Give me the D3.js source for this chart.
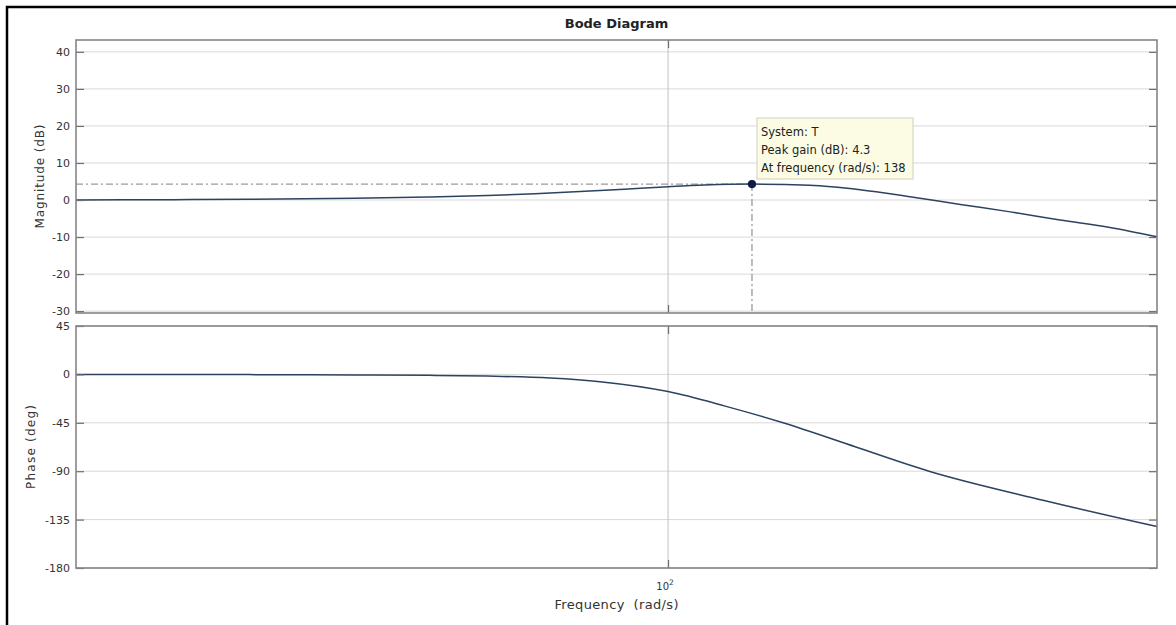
<!DOCTYPE html>
<html>
<head>
<meta charset="utf-8">
<script src="https://cdn.jsdelivr.net/npm/d3@7"></script>
<style>
  html, body { margin: 0; padding: 0; background: #ffffff; }
  svg { display: block; }
  text { font-family: "DejaVu Sans", "Liberation Sans", Arial, sans-serif; }
</style>
</head>
<body>
<svg id="chart" width="1176" height="625"></svg>
<script>
// ---------------- data ----------------
const titleText = "Bode Diagram";
const xLabelText = "Frequency  (rad/s)";
const magLabelText = "Magnitude (dB)";
const phaseLabelText = "Phase (deg)";

const freqDomain = [10.31, 653];          // rad/s, visible frequency range
const magDomain = [-30.5, 43.2];          // dB
const phaseDomain = [-180, 45];           // deg

const xTickValues = [100];
const magTicks = [-30, -20, -10, 0, 10, 20, 30, 40];
const phaseTicks = [-180, -135, -90, -45, 0, 45];

const magFreq = [10.31, 15, 20, 30, 40, 50, 60, 70, 80, 90, 100, 115, 138, 172, 209, 253, 307, 372, 450, 545, 653];
const magDb   = [0.0, 0.1, 0.2, 0.45, 0.8, 1.2, 1.7, 2.2, 2.7, 3.2, 3.6, 4.05, 4.3, 4.0, 2.8, 0.9, -1.2, -3.2, -5.4, -7.4, -9.9];

const phaseFreq = [10.31, 20, 30, 40, 50, 63.6, 77, 100, 124.5, 155.5, 205.6, 272.2, 421.7, 653];
const phaseDeg  = [0, -0.2, -0.5, -0.9, -1.6, -3.4, -6.8, -16, -29.5, -45, -67.5, -90, -117, -141.5];

const peakFreq = 138;
const peakGain = 4.3;
const tipLines = ["System: T", "Peak gain (dB): 4.3", "At frequency (rad/s): 138"];

// ---------------- layout ----------------
const svg = d3.select("#chart");
const L = 76, R = 1157;
const magTop = 40, magBot = 313;
const phTop = 326, phBot = 568;

const x = d3.scaleLog().domain(freqDomain).range([L, R]);
const yMag = d3.scaleLinear().domain(magDomain).range([magBot, magTop]);
const yPh = d3.scaleLinear().domain(phaseDomain).range([phBot, phTop]);

// outer figure border (top & left)
svg.append("path")
  .attr("d", "M7,625 L7,7 L1176,7")
  .attr("fill", "none").attr("stroke", "#000").attr("stroke-width", 2.5);

// title
svg.append("text")
  .attr("x", (L + R) / 2).attr("y", 28)
  .attr("text-anchor", "middle")
  .attr("font-size", 13).attr("font-weight", "bold").attr("fill", "#222")
  .text(titleText);

function panel(top, bot, y, ticks) {
  const g = svg.append("g");
  g.append("rect").attr("x", L).attr("y", top).attr("width", R - L).attr("height", bot - top)
    .attr("fill", "#fff");
  g.selectAll(".hg").data(ticks).join("line")
    .attr("x1", L).attr("x2", R)
    .attr("y1", d => y(d)).attr("y2", d => y(d))
    .attr("stroke", "#d8d8d8").attr("stroke-width", 1);
  g.selectAll(".vg").data(xTickValues).join("line")
    .attr("x1", d => x(d)).attr("x2", d => x(d))
    .attr("y1", top).attr("y2", bot)
    .attr("stroke", "#c2c2c2").attr("stroke-width", 1);
  return g;
}

function frame(g, top, bot, y, ticks, labelFmt) {
  const left = g.append("g").attr("transform", `translate(${L},0)`)
    .call(d3.axisLeft(y).tickValues(ticks).tickSizeInner(-8).tickSizeOuter(0).tickPadding(6).tickFormat(labelFmt));
  const right = g.append("g").attr("transform", `translate(${R},0)`)
    .call(d3.axisRight(y).tickValues(ticks).tickSizeInner(-8).tickSizeOuter(0).tickFormat(""));
  const topAx = g.append("g").attr("transform", `translate(0,${top})`)
    .call(d3.axisTop(x).tickValues(xTickValues).tickSizeInner(-8).tickSizeOuter(0).tickFormat(""));
  const botAx = g.append("g").attr("transform", `translate(0,${bot})`)
    .call(d3.axisBottom(x).tickValues(xTickValues).tickSizeInner(-8).tickSizeOuter(0).tickFormat(""));
  [left, right, topAx, botAx].forEach(a => {
    a.select(".domain").remove();
    a.selectAll(".tick line").attr("stroke", "#6e6e6e").attr("stroke-width", 1.2);
    a.selectAll(".tick text").attr("font-size", 11).attr("fill", "#333")
      .attr("font-family", "'DejaVu Sans', Arial, sans-serif");
  });
  g.append("rect").attr("x", L).attr("y", top).attr("width", R - L).attr("height", bot - top)
    .attr("fill", "none").attr("stroke", "#858585").attr("stroke-width", 1.6);
}

const fmt = d => (d < 0 ? "-" + Math.abs(d) : String(d));

// ----- magnitude panel -----
const gMag = panel(magTop, magBot, yMag, magTicks);

gMag.append("line")
  .attr("x1", L).attr("x2", x(peakFreq))
  .attr("y1", yMag(peakGain)).attr("y2", yMag(peakGain))
  .attr("stroke", "#9a9a9a").attr("stroke-width", 1.3).attr("stroke-dasharray", "7,3,2,3");
gMag.append("line")
  .attr("x1", x(peakFreq)).attr("x2", x(peakFreq))
  .attr("y1", yMag(peakGain)).attr("y2", magBot)
  .attr("stroke", "#9a9a9a").attr("stroke-width", 1.3).attr("stroke-dasharray", "7,3,2,3");

const magLine = d3.line().x(d => x(d[0])).y(d => yMag(d[1])).curve(d3.curveMonotoneX);
gMag.append("path")
  .datum(d3.zip(magFreq, magDb))
  .attr("d", magLine)
  .attr("fill", "none").attr("stroke", "#2c4360").attr("stroke-width", 1.5);

frame(gMag, magTop, magBot, yMag, magTicks, fmt);

gMag.append("circle")
  .attr("cx", x(peakFreq)).attr("cy", yMag(peakGain)).attr("r", 3.8)
  .attr("fill", "#0b1b4d").attr("stroke", "#06102e").attr("stroke-width", 0.8);

// data tip
const tip = gMag.append("g");
tip.append("rect")
  .attr("x", 757).attr("y", 118).attr("width", 156).attr("height", 61)
  .attr("fill", "#fcfce4").attr("stroke", "#cfcfc0").attr("stroke-width", 1);
tip.selectAll("text").data(tipLines).join("text")
  .attr("x", 761).attr("y", (d, i) => 136 + i * 18)
  .attr("font-size", 11.5).attr("fill", "#222")
  .text(d => d);

svg.append("text")
  .attr("transform", `translate(44,${(magTop + magBot) / 2}) rotate(-90)`)
  .attr("text-anchor", "middle").attr("font-size", 12).attr("fill", "#333")
  .attr("textLength", 104).attr("lengthAdjust", "spacing")
  .text(magLabelText);

// ----- phase panel -----
const gPh = panel(phTop, phBot, yPh, phaseTicks);
const phLine = d3.line().x(d => x(d[0])).y(d => yPh(d[1])).curve(d3.curveMonotoneX);
gPh.append("path")
  .datum(d3.zip(phaseFreq, phaseDeg))
  .attr("d", phLine)
  .attr("fill", "none").attr("stroke", "#2c4360").attr("stroke-width", 1.5);
frame(gPh, phTop, phBot, yPh, phaseTicks, fmt);

svg.append("text")
  .attr("transform", `translate(35,${(phTop + phBot) / 2}) rotate(-90)`)
  .attr("text-anchor", "middle").attr("font-size", 12).attr("fill", "#333")
  .attr("textLength", 84).attr("lengthAdjust", "spacing")
  .text(phaseLabelText);

// x tick label 10^2
xTickValues.forEach(v => {
  const t = svg.append("text")
    .attr("x", x(v) - 3).attr("y", 590)
    .attr("text-anchor", "middle").attr("font-size", 10).attr("fill", "#333");
  t.append("tspan").text("10");
  t.append("tspan").attr("font-size", 7.5).attr("dy", -5).text(String(Math.round(Math.log10(v))));
});

// x label
svg.append("text")
  .attr("x", (L + R) / 2).attr("y", 609)
  .attr("text-anchor", "middle").attr("font-size", 13).attr("fill", "#333")
  .attr("textLength", 124).attr("lengthAdjust", "spacing")
  .style("white-space", "pre")
  .text(xLabelText);
</script>
</body>
</html>
